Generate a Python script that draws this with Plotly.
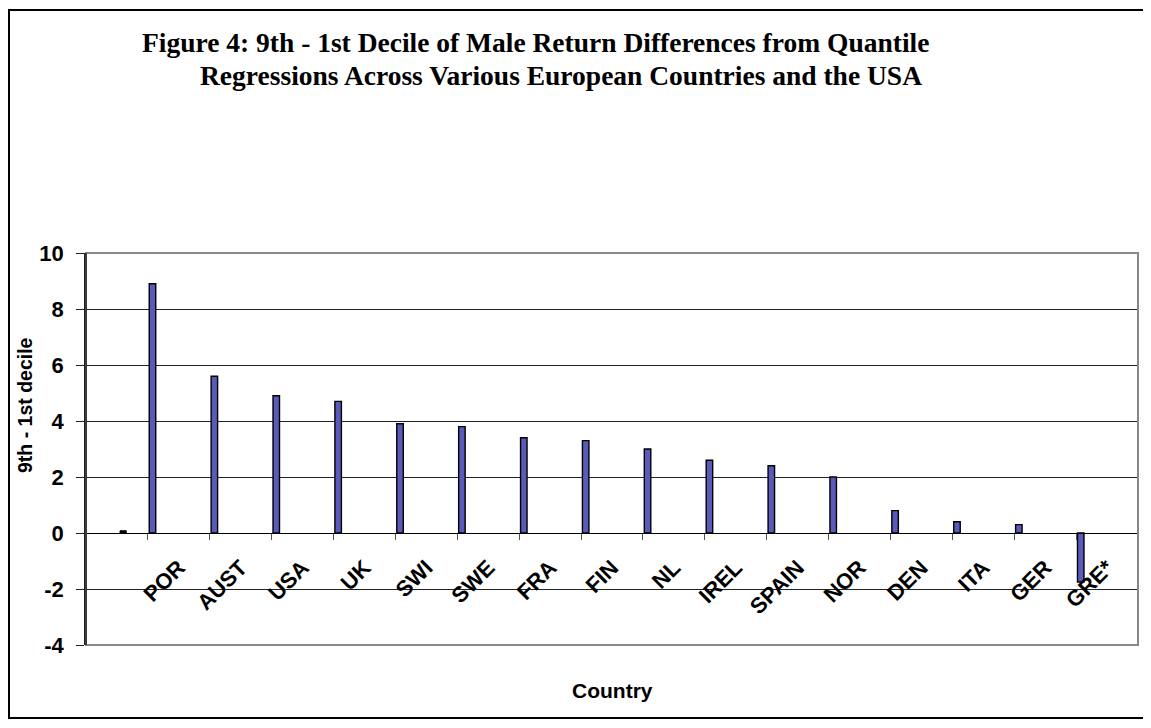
import plotly.graph_objects as go

# categories and values
countries = ["POR", "AUST", "USA", "UK", "SWI", "SWE", "FRA", "FIN", "NL",
             "IREL", "SPAIN", "NOR", "DEN", "ITA", "GER", "GRE*"]
decile_diff = [8.9, 5.6, 4.9, 4.7, 3.9, 3.8, 3.4, 3.3, 3.0,
               2.6, 2.4, 2.0, 0.8, 0.4, 0.3, -1.75]
first_cat = [" "]
first_val = [0.08]
all_cats = first_cat + countries

y_ticks = [-4, -2, 0, 2, 4, 6, 8, 10]
y_ticktext = ["-4", "-2", "0", "2", "4", "6", "8", "10"]

# the page body has an 8px margin, so work in page pixels and shift
OFF = 8
W, H = 1151 - OFF, 728 - OFF
L, R, T, B = 86 - OFF, 1138 - OFF, 253 - OFF, 645 - OFF   # plot area


def px(x):
    return (x - OFF - L) / (R - L)


def py(y):
    return (B - (y - OFF)) / (B - T)


fig = go.Figure()

fig.add_trace(go.Bar(
    x=countries, y=decile_diff,
    offset=-0.478, width=0.105,
    marker=dict(color="#5a5abb", line=dict(color="black", width=1.4)),
    showlegend=False
))

fig.add_trace(go.Bar(
    x=first_cat, y=first_val,
    offset=0.05, width=0.1,
    marker=dict(color="black", line=dict(color="black", width=1)),
    showlegend=False
))

arial = "Arial, Liberation Sans, sans-serif"
times = "Times New Roman, Liberation Serif, serif"

fig.update_layout(
    width=W, height=H,
    margin=dict(l=L, r=W - R, t=T, b=H - B, pad=0),
    paper_bgcolor="white", plot_bgcolor="white",
    barmode="overlay",
    xaxis=dict(
        type="category", categoryorder="array", categoryarray=all_cats,
        anchor="free", position=4 / 14,
        showline=True, linecolor="black", linewidth=1,
        ticks="outside", tickson="boundaries", ticklen=6, tickcolor="#555",
        tickangle=-45, ticklabelstandoff=12,
        tickfont=dict(family=arial, size=22, color="black", weight="bold"),
        showgrid=False, zeroline=False,
        range=[-0.5, 16.5],
    ),
    yaxis=dict(
        range=[-4, 10], tickvals=y_ticks, ticktext=y_ticktext,
        showline=True, linecolor="#222", linewidth=1.5,
        ticks="outside", ticklen=8, tickcolor="#222",
        ticklabelstandoff=8,
        tickfont=dict(family=arial, size=22, color="black", weight="bold"),
        showgrid=True, gridcolor="#222", gridwidth=1,
        zeroline=True, zerolinecolor="black", zerolinewidth=1,
    ),
)

# plot area frame (grey) and outer chart border (black)
fig.add_shape(type="rect", xref="paper", yref="paper", x0=0, x1=1, y0=0, y1=1,
              line=dict(color="#888", width=2), layer="above")
fig.add_shape(type="line", xref="paper", yref="paper", x0=0, x1=0, y0=0, y1=1,
              line=dict(color="#222", width=1.5), layer="above")
fig.add_shape(type="rect", xref="paper", yref="paper",
              x0=px(9), x1=px(1144), y0=py(718), y1=py(10),
              line=dict(color="black", width=2))

fig.add_annotation(
    text="<b>Figure 4: 9th - 1st Decile of Male Return Differences from Quantile</b>",
    xref="paper", yref="paper", x=px(535), y=py(42),
    showarrow=False, font=dict(family=times, size=27.5, color="black"),
    xanchor="center", yanchor="middle")
fig.add_annotation(
    text="<b>Regressions Across Various European Countries and the USA</b>",
    xref="paper", yref="paper", x=px(561), y=py(75),
    showarrow=False, font=dict(family=times, size=27.5, color="black"),
    xanchor="center", yanchor="middle")

fig.add_annotation(
    text="<b>9th - 1st decile</b>", textangle=-90,
    xref="paper", yref="paper", x=px(25), y=py(405),
    showarrow=False, font=dict(family=arial, size=19.5, color="black"),
    xanchor="center", yanchor="middle")
fig.add_annotation(
    text="<b>Country</b>",
    xref="paper", yref="paper", x=px(612), y=py(690),
    showarrow=False, font=dict(family=arial, size=21, color="black"),
    xanchor="center", yanchor="middle")

fig.write_html("out.html")
